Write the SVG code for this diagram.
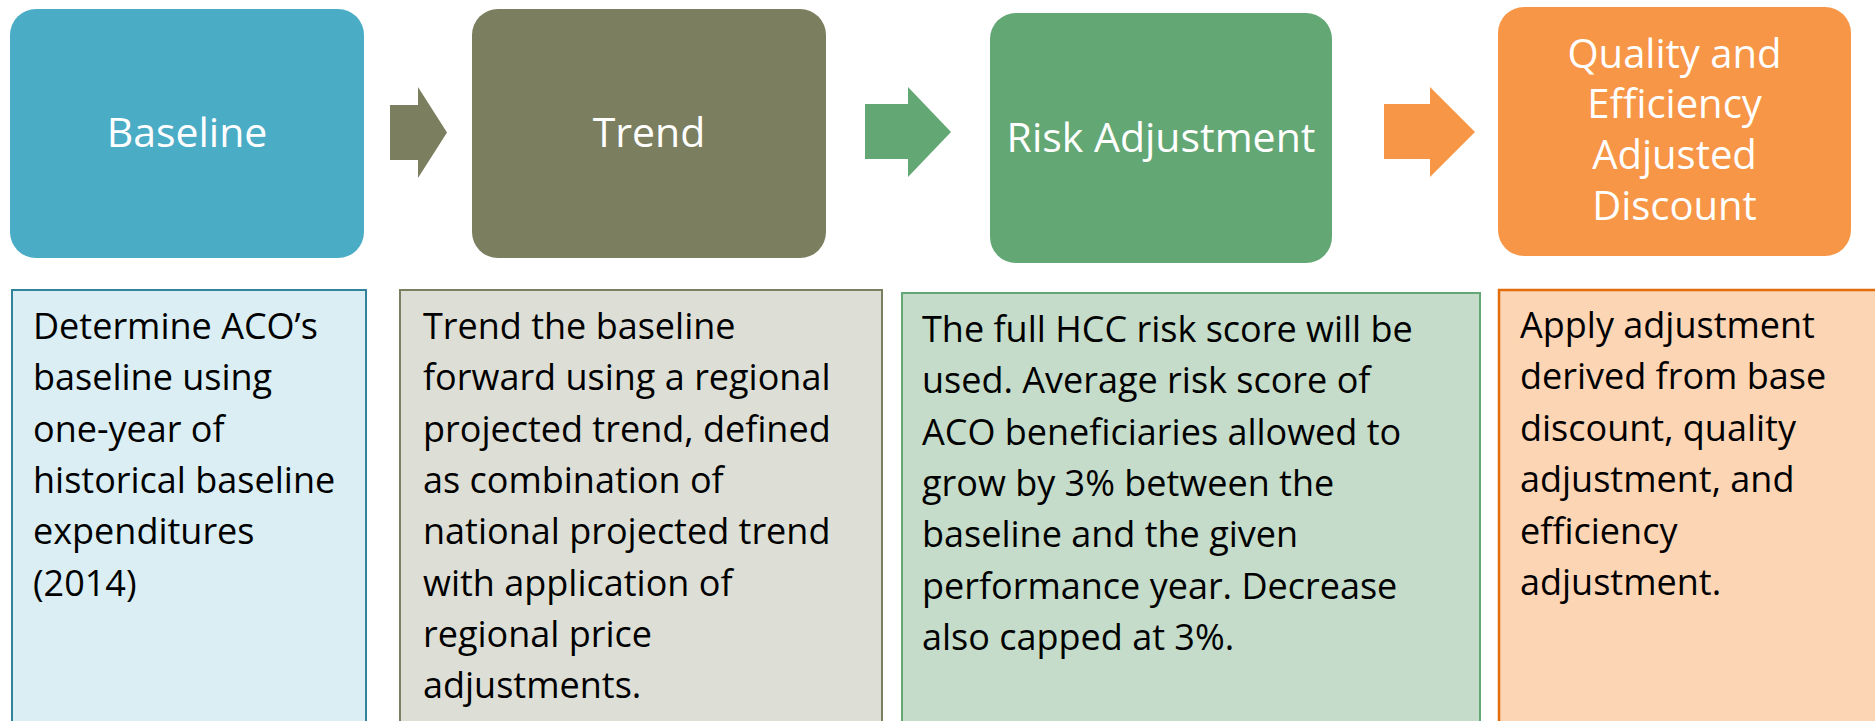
<svg xmlns="http://www.w3.org/2000/svg" width="1875" height="721" viewBox="0 0 1875 721">
<style>
.hd{font-family:"Open Sans","Noto Sans","Liberation Sans",sans-serif;font-size:41px;fill:#ffffff;text-anchor:middle}
.hq{font-size:40px}
.bd{font-family:"Open Sans","Noto Sans","Liberation Sans",sans-serif;font-size:36px;fill:#000000}
</style>
<rect width="1875" height="721" fill="#ffffff"/>
<g id="connectors">
<polygon points="390,105 418,105 418,87 447,132.5 418,178 418,160 390,160" fill="#7b7f5f"/>
<polygon points="865,104 908,104 908,87 951,132 908,177 908,159 865,159" fill="#63a775"/>
<polygon points="1384,104 1430,104 1430,87 1475,132 1430,177 1430,159 1384,159" fill="#f79646"/>
</g>
<g id="baseline">
<rect x="10" y="9" width="354" height="249" rx="26" fill="#4bacc6"/>
<text class="hd" x="187" y="147">Baseline</text>
</g>
<g id="trend">
<rect x="472" y="9" width="354" height="249" rx="26" fill="#7b7f5f"/>
<text class="hd" x="649" y="147">Trend</text>
</g>
<g id="risk">
<rect x="990" y="13" width="342" height="250" rx="26" fill="#63a775"/>
<text class="hd" x="1161" y="152">Risk Adjustment</text>
</g>
<g id="quality">
<rect x="1498" y="7" width="353" height="249" rx="26" fill="#f79646"/>
<text class="hd hq" x="1674.5" y="68">Quality and</text>
<text class="hd hq" x="1674.5" y="118">Efficiency</text>
<text class="hd hq" x="1674.5" y="169">Adjusted</text>
<text class="hd hq" x="1674.5" y="220">Discount</text>
</g>
<g id="baseline-desc">
<rect x="12" y="290" width="354" height="460" fill="#daeef3" stroke="#31849b" stroke-width="2"/>
<text class="bd" x="33" y="339">Determine ACO’s</text>
<text class="bd" x="33" y="390.3">baseline using</text>
<text class="bd" x="33" y="441.6">one-year of</text>
<text class="bd" x="33" y="492.9">historical baseline</text>
<text class="bd" x="33" y="544.2">expenditures</text>
<text class="bd" x="33" y="595.5">(2014)</text>
</g>
<g id="trend-desc">
<rect x="400" y="290" width="482" height="460" fill="#dddfd6" stroke="#7b7f5f" stroke-width="2"/>
<text class="bd" x="423" y="339">Trend the baseline</text>
<text class="bd" x="423" y="390.3">forward using a regional</text>
<text class="bd" x="423" y="441.6">projected trend, defined</text>
<text class="bd" x="423" y="492.9">as combination of</text>
<text class="bd" x="423" y="544.2">national projected trend</text>
<text class="bd" x="423" y="595.5">with application of</text>
<text class="bd" x="423" y="646.8">regional price</text>
<text class="bd" x="423" y="698.1">adjustments.</text>
</g>
<g id="risk-desc">
<rect x="902" y="293" width="578" height="460" fill="#c4dcc9" stroke="#63a775" stroke-width="2"/>
<text class="bd" x="922" y="342">The full HCC risk score will be</text>
<text class="bd" x="922" y="393.3">used. Average risk score of</text>
<text class="bd" x="922" y="444.6">ACO beneficiaries allowed to</text>
<text class="bd" x="922" y="495.9">grow by 3% between the</text>
<text class="bd" x="922" y="547.2">baseline and the given</text>
<text class="bd" x="922" y="598.5">performance year. Decrease</text>
<text class="bd" x="922" y="649.8">also capped at 3%.</text>
</g>
<g id="quality-desc">
<rect x="1499" y="290" width="400" height="460" fill="#fcd5b5" stroke="#e46c0a" stroke-width="2.5"/>
<text class="bd" x="1520" y="338">Apply adjustment</text>
<text class="bd" x="1520" y="389.4">derived from base</text>
<text class="bd" x="1520" y="440.8">discount, quality</text>
<text class="bd" x="1520" y="492.2">adjustment, and</text>
<text class="bd" x="1520" y="543.6">efficiency</text>
<text class="bd" x="1520" y="595">adjustment.</text>
</g>
</svg>
